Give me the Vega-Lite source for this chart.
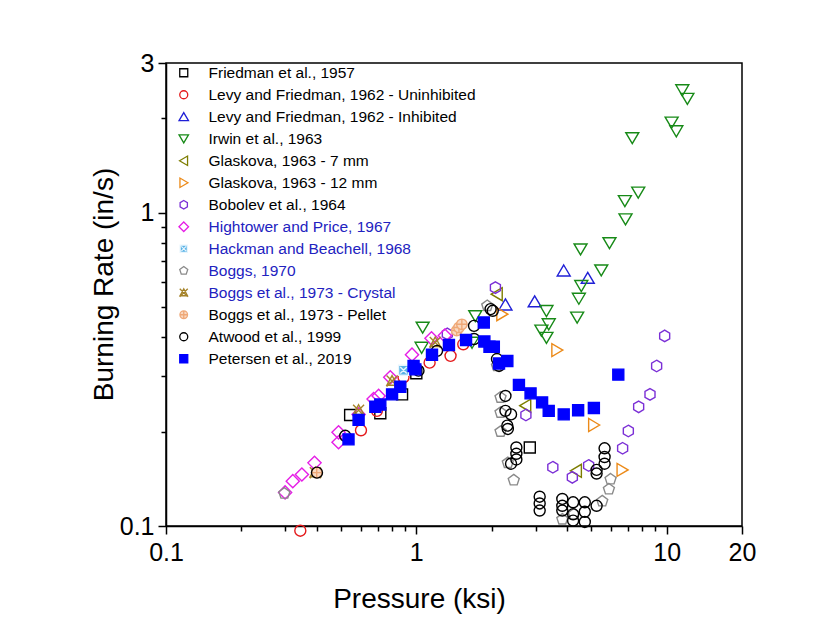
{
  "$schema": "https://vega.github.io/schema/vega-lite/v6.json",
  "width": 576,
  "height": 463,
  "autosize": "none",
  "padding": {"left": 166, "top": 63, "right": 93, "bottom": 114},
  "background": "white",
  "config": {
    "view": {"stroke": "black", "strokeWidth": 1.5},
    "axis": {
      "grid": false,
      "domainColor": "black",
      "domainWidth": 1.5,
      "tickColor": "black",
      "tickWidth": 1.5,
      "labelFont": "Liberation Sans",
      "labelFontSize": 25,
      "labelColor": "black",
      "titleFont": "Liberation Sans",
      "titleFontSize": 28,
      "titleFontWeight": "normal",
      "titleColor": "black",
      "labelOverlap": false,
      "labelFlush": false
    },
    "legend": {
      "labelFont": "Liberation Sans",
      "labelFontSize": 15.5,
      "labelLimit": 0,
      "symbolSize": 64,
      "symbolStrokeWidth": 1.3
    }
  },
  "data": {
    "values": [
      {"s": "Friedman et al., 1957", "p": 0.544, "r": 0.226},
      {"s": "Friedman et al., 1957", "p": 0.718, "r": 0.229},
      {"s": "Friedman et al., 1957", "p": 0.877, "r": 0.263},
      {"s": "Friedman et al., 1957", "p": 1.0, "r": 0.307},
      {"s": "Friedman et al., 1957", "p": 2.84, "r": 0.178},

      {"s": "Levy and Friedman, 1962 - Uninhibited", "p": 0.344, "r": 0.0966},
      {"s": "Levy and Friedman, 1962 - Uninhibited", "p": 0.601, "r": 0.202},
      {"s": "Levy and Friedman, 1962 - Uninhibited", "p": 0.696, "r": 0.233},
      {"s": "Levy and Friedman, 1962 - Uninhibited", "p": 0.889, "r": 0.298},
      {"s": "Levy and Friedman, 1962 - Uninhibited", "p": 1.13, "r": 0.332},
      {"s": "Levy and Friedman, 1962 - Uninhibited", "p": 1.37, "r": 0.349},
      {"s": "Levy and Friedman, 1962 - Uninhibited", "p": 1.54, "r": 0.38},

      {"s": "Levy and Friedman, 1962 - Inhibited", "p": 2.27, "r": 0.508},
      {"s": "Levy and Friedman, 1962 - Inhibited", "p": 2.97, "r": 0.52},
      {"s": "Levy and Friedman, 1962 - Inhibited", "p": 3.88, "r": 0.652},
      {"s": "Levy and Friedman, 1962 - Inhibited", "p": 4.84, "r": 0.618},

      {"s": "Irwin et al., 1963", "p": 11.55, "r": 2.46},
      {"s": "Irwin et al., 1963", "p": 12.1, "r": 2.31},
      {"s": "Irwin et al., 1963", "p": 10.47, "r": 1.94},
      {"s": "Irwin et al., 1963", "p": 10.93, "r": 1.82},
      {"s": "Irwin et al., 1963", "p": 7.29, "r": 1.73},
      {"s": "Irwin et al., 1963", "p": 7.7, "r": 1.16},
      {"s": "Irwin et al., 1963", "p": 6.81, "r": 1.09},
      {"s": "Irwin et al., 1963", "p": 6.85, "r": 0.953},
      {"s": "Irwin et al., 1963", "p": 5.91, "r": 0.8},
      {"s": "Irwin et al., 1963", "p": 4.53, "r": 0.764},
      {"s": "Irwin et al., 1963", "p": 5.48, "r": 0.655},
      {"s": "Irwin et al., 1963", "p": 4.56, "r": 0.584},
      {"s": "Irwin et al., 1963", "p": 4.46, "r": 0.532},
      {"s": "Irwin et al., 1963", "p": 4.39, "r": 0.463},
      {"s": "Irwin et al., 1963", "p": 3.31, "r": 0.486},
      {"s": "Irwin et al., 1963", "p": 3.38, "r": 0.441},
      {"s": "Irwin et al., 1963", "p": 3.16, "r": 0.421},
      {"s": "Irwin et al., 1963", "p": 3.31, "r": 0.399},
      {"s": "Irwin et al., 1963", "p": 1.72, "r": 0.468},
      {"s": "Irwin et al., 1963", "p": 1.06, "r": 0.43},
      {"s": "Irwin et al., 1963", "p": 1.05, "r": 0.371},
      {"s": "Irwin et al., 1963", "p": 1.67, "r": 0.385},

      {"s": "Glaskova, 1963 - 7 mm", "p": 2.1, "r": 0.549},
      {"s": "Glaskova, 1963 - 7 mm", "p": 2.73, "r": 0.242},
      {"s": "Glaskova, 1963 - 7 mm", "p": 4.35, "r": 0.15},

      {"s": "Glaskova, 1963 - 12 mm", "p": 2.2, "r": 0.474},
      {"s": "Glaskova, 1963 - 12 mm", "p": 3.65, "r": 0.364},
      {"s": "Glaskova, 1963 - 12 mm", "p": 5.12, "r": 0.21},
      {"s": "Glaskova, 1963 - 12 mm", "p": 6.65, "r": 0.151},

      {"s": "Bobolev et al., 1964", "p": 1.33, "r": 0.41},
      {"s": "Bobolev et al., 1964", "p": 2.07, "r": 0.576},
      {"s": "Bobolev et al., 1964", "p": 2.74, "r": 0.226},
      {"s": "Bobolev et al., 1964", "p": 3.51, "r": 0.154},
      {"s": "Bobolev et al., 1964", "p": 4.2, "r": 0.143},
      {"s": "Bobolev et al., 1964", "p": 4.88, "r": 0.156},
      {"s": "Bobolev et al., 1964", "p": 6.67, "r": 0.177},
      {"s": "Bobolev et al., 1964", "p": 7.03, "r": 0.201},
      {"s": "Bobolev et al., 1964", "p": 7.73, "r": 0.24},
      {"s": "Bobolev et al., 1964", "p": 8.58, "r": 0.263},
      {"s": "Bobolev et al., 1964", "p": 9.12, "r": 0.324},
      {"s": "Bobolev et al., 1964", "p": 9.82, "r": 0.404},

      {"s": "Hightower and Price, 1967", "p": 0.299, "r": 0.128},
      {"s": "Hightower and Price, 1967", "p": 0.321, "r": 0.139},
      {"s": "Hightower and Price, 1967", "p": 0.349, "r": 0.146},
      {"s": "Hightower and Price, 1967", "p": 0.392, "r": 0.159},
      {"s": "Hightower and Price, 1967", "p": 0.489, "r": 0.185},
      {"s": "Hightower and Price, 1967", "p": 0.489, "r": 0.199},
      {"s": "Hightower and Price, 1967", "p": 0.588, "r": 0.227},
      {"s": "Hightower and Price, 1967", "p": 0.675, "r": 0.254},
      {"s": "Hightower and Price, 1967", "p": 0.707, "r": 0.26},
      {"s": "Hightower and Price, 1967", "p": 0.787, "r": 0.298},
      {"s": "Hightower and Price, 1967", "p": 0.961, "r": 0.352},
      {"s": "Hightower and Price, 1967", "p": 1.15, "r": 0.397},
      {"s": "Hightower and Price, 1967", "p": 1.3, "r": 0.405},

      {"s": "Hackman and Beachell, 1968", "p": 0.889, "r": 0.314},

      {"s": "Boggs, 1970", "p": 0.297, "r": 0.127},
      {"s": "Boggs, 1970", "p": 1.92, "r": 0.504},
      {"s": "Boggs, 1970", "p": 2.1, "r": 0.324},
      {"s": "Boggs, 1970", "p": 2.17, "r": 0.257},
      {"s": "Boggs, 1970", "p": 2.17, "r": 0.23},
      {"s": "Boggs, 1970", "p": 2.17, "r": 0.2},
      {"s": "Boggs, 1970", "p": 2.32, "r": 0.159},
      {"s": "Boggs, 1970", "p": 2.45, "r": 0.14},
      {"s": "Boggs, 1970", "p": 3.83, "r": 0.105},
      {"s": "Boggs, 1970", "p": 4.26, "r": 0.109},
      {"s": "Boggs, 1970", "p": 5.53, "r": 0.12},
      {"s": "Boggs, 1970", "p": 5.88, "r": 0.131},
      {"s": "Boggs, 1970", "p": 5.97, "r": 0.141},

      {"s": "Boggs et al., 1973 - Crystal", "p": 0.395, "r": 0.148},
      {"s": "Boggs et al., 1973 - Crystal", "p": 0.588, "r": 0.234},
      {"s": "Boggs et al., 1973 - Crystal", "p": 0.8, "r": 0.29},
      {"s": "Boggs et al., 1973 - Crystal", "p": 1.19, "r": 0.385},

      {"s": "Boggs et al., 1973 - Pellet", "p": 0.4, "r": 0.148},
      {"s": "Boggs et al., 1973 - Pellet", "p": 1.45, "r": 0.42},
      {"s": "Boggs et al., 1973 - Pellet", "p": 1.48, "r": 0.43},
      {"s": "Boggs et al., 1973 - Pellet", "p": 1.52, "r": 0.44},

      {"s": "Atwood et al., 1999", "p": 0.401, "r": 0.148},
      {"s": "Atwood et al., 1999", "p": 0.52, "r": 0.194},
      {"s": "Atwood et al., 1999", "p": 1.02, "r": 0.313},
      {"s": "Atwood et al., 1999", "p": 1.21, "r": 0.362},
      {"s": "Atwood et al., 1999", "p": 1.7, "r": 0.435},
      {"s": "Atwood et al., 1999", "p": 1.7, "r": 0.395},
      {"s": "Atwood et al., 1999", "p": 1.98, "r": 0.492},
      {"s": "Atwood et al., 1999", "p": 2.02, "r": 0.486},
      {"s": "Atwood et al., 1999", "p": 2.1, "r": 0.341},
      {"s": "Atwood et al., 1999", "p": 2.14, "r": 0.324},
      {"s": "Atwood et al., 1999", "p": 2.27, "r": 0.26},
      {"s": "Atwood et al., 1999", "p": 2.27, "r": 0.233},
      {"s": "Atwood et al., 1999", "p": 2.39, "r": 0.227},
      {"s": "Atwood et al., 1999", "p": 2.31, "r": 0.209},
      {"s": "Atwood et al., 1999", "p": 2.32, "r": 0.204},
      {"s": "Atwood et al., 1999", "p": 2.51, "r": 0.178},
      {"s": "Atwood et al., 1999", "p": 2.51, "r": 0.17},
      {"s": "Atwood et al., 1999", "p": 2.51, "r": 0.163},
      {"s": "Atwood et al., 1999", "p": 2.39, "r": 0.158},
      {"s": "Atwood et al., 1999", "p": 3.11, "r": 0.124},
      {"s": "Atwood et al., 1999", "p": 3.11, "r": 0.118},
      {"s": "Atwood et al., 1999", "p": 3.11, "r": 0.112},
      {"s": "Atwood et al., 1999", "p": 3.83, "r": 0.122},
      {"s": "Atwood et al., 1999", "p": 3.83, "r": 0.116},
      {"s": "Atwood et al., 1999", "p": 3.83, "r": 0.112},
      {"s": "Atwood et al., 1999", "p": 4.23, "r": 0.119},
      {"s": "Atwood et al., 1999", "p": 4.23, "r": 0.109},
      {"s": "Atwood et al., 1999", "p": 4.23, "r": 0.104},
      {"s": "Atwood et al., 1999", "p": 4.71, "r": 0.119},
      {"s": "Atwood et al., 1999", "p": 4.71, "r": 0.111},
      {"s": "Atwood et al., 1999", "p": 4.71, "r": 0.103},
      {"s": "Atwood et al., 1999", "p": 5.25, "r": 0.116},
      {"s": "Atwood et al., 1999", "p": 5.25, "r": 0.151},
      {"s": "Atwood et al., 1999", "p": 5.25, "r": 0.147},
      {"s": "Atwood et al., 1999", "p": 5.65, "r": 0.177},
      {"s": "Atwood et al., 1999", "p": 5.65, "r": 0.166},
      {"s": "Atwood et al., 1999", "p": 5.65, "r": 0.158},

      {"s": "Petersen et al., 2019", "p": 0.536, "r": 0.189},
      {"s": "Petersen et al., 2019", "p": 0.588, "r": 0.218},
      {"s": "Petersen et al., 2019", "p": 0.686, "r": 0.24},
      {"s": "Petersen et al., 2019", "p": 0.718, "r": 0.244},
      {"s": "Petersen et al., 2019", "p": 0.8, "r": 0.263},
      {"s": "Petersen et al., 2019", "p": 0.863, "r": 0.278},
      {"s": "Petersen et al., 2019", "p": 0.975, "r": 0.324},
      {"s": "Petersen et al., 2019", "p": 0.991, "r": 0.316},
      {"s": "Petersen et al., 2019", "p": 1.155, "r": 0.352},
      {"s": "Petersen et al., 2019", "p": 1.35, "r": 0.378},
      {"s": "Petersen et al., 2019", "p": 1.58, "r": 0.392},
      {"s": "Petersen et al., 2019", "p": 1.86, "r": 0.446},
      {"s": "Petersen et al., 2019", "p": 1.87, "r": 0.388},
      {"s": "Petersen et al., 2019", "p": 1.96, "r": 0.373},
      {"s": "Petersen et al., 2019", "p": 2.04, "r": 0.373},
      {"s": "Petersen et al., 2019", "p": 2.14, "r": 0.33},
      {"s": "Petersen et al., 2019", "p": 2.31, "r": 0.336},
      {"s": "Petersen et al., 2019", "p": 2.57, "r": 0.282},
      {"s": "Petersen et al., 2019", "p": 2.86, "r": 0.265},
      {"s": "Petersen et al., 2019", "p": 3.18, "r": 0.248},
      {"s": "Petersen et al., 2019", "p": 3.38, "r": 0.233},
      {"s": "Petersen et al., 2019", "p": 3.88, "r": 0.227},
      {"s": "Petersen et al., 2019", "p": 4.43, "r": 0.234},
      {"s": "Petersen et al., 2019", "p": 5.12, "r": 0.238},
      {"s": "Petersen et al., 2019", "p": 6.41, "r": 0.304}
    ]
  },
  "mark": {"type": "point", "filled": false, "size": 121, "strokeWidth": 1.4, "opacity": 1},
  "encoding": {
    "x": {
      "field": "p",
      "type": "quantitative",
      "title": "Pressure (ksi)",
      "scale": {"type": "log", "domain": [0.1, 20], "nice": false},
      "axis": {
        "values": [0.1, 0.2, 0.3, 0.4, 0.5, 0.6, 0.7, 0.8, 0.9, 1, 2, 3, 4, 5, 6, 7, 8, 9, 10, 20],
        "labelExpr": "indexof([0.1, 1, 10, 20], datum.value) >= 0 ? format(datum.value, '~g') : ''",
        "tickSize": {"condition": {"test": "indexof([0.1, 1, 10, 20], datum.value) >= 0", "value": 8}, "value": 5},
        "labelPadding": 6,
        "titlePadding": 20,
        "titleX": 253
      }
    },
    "y": {
      "field": "r",
      "type": "quantitative",
      "title": "Burning Rate (in/s)",
      "scale": {"type": "log", "domain": [0.1, 3], "nice": false},
      "axis": {
        "values": [0.1, 0.2, 0.3, 0.4, 0.5, 0.6, 0.7, 0.8, 0.9, 1, 2, 3],
        "labelExpr": "indexof([0.1, 1, 3], datum.value) >= 0 ? format(datum.value, '~g') : ''",
        "tickSize": {"condition": {"test": "indexof([0.1, 1, 3], datum.value) >= 0", "value": 8}, "value": 5},
        "labelPadding": 4,
        "titlePadding": 1,
        "titleY": 221
      }
    },
    "shape": {
      "field": "s",
      "type": "nominal",
      "sort": null,
      "scale": {
        "domain": ["Friedman et al., 1957", "Levy and Friedman, 1962 - Uninhibited", "Levy and Friedman, 1962 - Inhibited", "Irwin et al., 1963", "Glaskova, 1963 - 7 mm", "Glaskova, 1963 - 12 mm", "Bobolev et al., 1964", "Hightower and Price, 1967", "Hackman and Beachell, 1968", "Boggs, 1970", "Boggs et al., 1973 - Crystal", "Boggs et al., 1973 - Pellet", "Atwood et al., 1999", "Petersen et al., 2019"],
        "range": [
          "square",
          "circle",
          "M0,-1.05L1.18,0.95L-1.18,0.95Z",
          "M0,1.05L1.18,-0.95L-1.18,-0.95Z",
          "M-1.05,0L0.95,-1.18L0.95,1.18Z",
          "M1.05,0L-0.95,-1.18L-0.95,1.18Z",
          "M0,-1.05L0.91,-0.525L0.91,0.525L0,1.05L-0.91,0.525L-0.91,-0.525Z",
          "M0,-1.2L1.2,0L0,1.2L-1.2,0Z",
          "M-0.9,-0.9H0.9V0.9H-0.9Z M-0.6,-0.6L0.6,0.6 M-0.6,0.6L0.6,-0.6",
          "M0,-1.05L1.0,-0.32L0.62,0.85L-0.62,0.85L-1.0,-0.32Z",
          "M0,-1L0.95,0.75L-0.95,0.75Z M-1,-1L1,1 M-1,1L1,-1",
          "M0.95,0A0.95,0.95 0 1,1 -0.95,0A0.95,0.95 0 1,1 0.95,0Z M-0.95,0H0.95 M0,-0.95V0.95",
          "circle",
          "square"
        ]
      },
      "legend": {
        "title": null,
        "orient": "none",
        "legendX": 10,
        "legendY": 2,
        "labelOffset": 17,
        "rowPadding": 5,
        "padding": 0,
        "labelColor": {"expr": "indexof(['Hightower and Price, 1967', 'Hackman and Beachell, 1968', 'Boggs, 1970', 'Boggs et al., 1973 - Crystal'], datum.value) >= 0 ? '#2222c0' : 'black'"}
      }
    },
    "stroke": {
      "field": "s",
      "type": "nominal",
      "sort": null,
      "scale": {
        "domain": ["Friedman et al., 1957", "Levy and Friedman, 1962 - Uninhibited", "Levy and Friedman, 1962 - Inhibited", "Irwin et al., 1963", "Glaskova, 1963 - 7 mm", "Glaskova, 1963 - 12 mm", "Bobolev et al., 1964", "Hightower and Price, 1967", "Hackman and Beachell, 1968", "Boggs, 1970", "Boggs et al., 1973 - Crystal", "Boggs et al., 1973 - Pellet", "Atwood et al., 1999", "Petersen et al., 2019"],
        "range": ["#000000", "#e41a1c", "#1f1fd6", "#178a17", "#7d7d00", "#ec8a18", "#7b2fd6", "#e61ee6", "#e8f5fd", "#8a8a8a", "#a5832a", "#efa877", "#000000", "#0000ff"]
      },
      "legend": null
    },
    "fill": {
      "field": "s",
      "type": "nominal",
      "sort": null,
      "scale": {
        "domain": ["Friedman et al., 1957", "Levy and Friedman, 1962 - Uninhibited", "Levy and Friedman, 1962 - Inhibited", "Irwin et al., 1963", "Glaskova, 1963 - 7 mm", "Glaskova, 1963 - 12 mm", "Bobolev et al., 1964", "Hightower and Price, 1967", "Hackman and Beachell, 1968", "Boggs, 1970", "Boggs et al., 1973 - Crystal", "Boggs et al., 1973 - Pellet", "Atwood et al., 1999", "Petersen et al., 2019"],
        "range": ["transparent", "transparent", "transparent", "transparent", "transparent", "transparent", "transparent", "transparent", "#58b2e6", "transparent", "transparent", "#f9d9c2", "transparent", "#0000ff"]
      },
      "legend": null
    }
  }
}
